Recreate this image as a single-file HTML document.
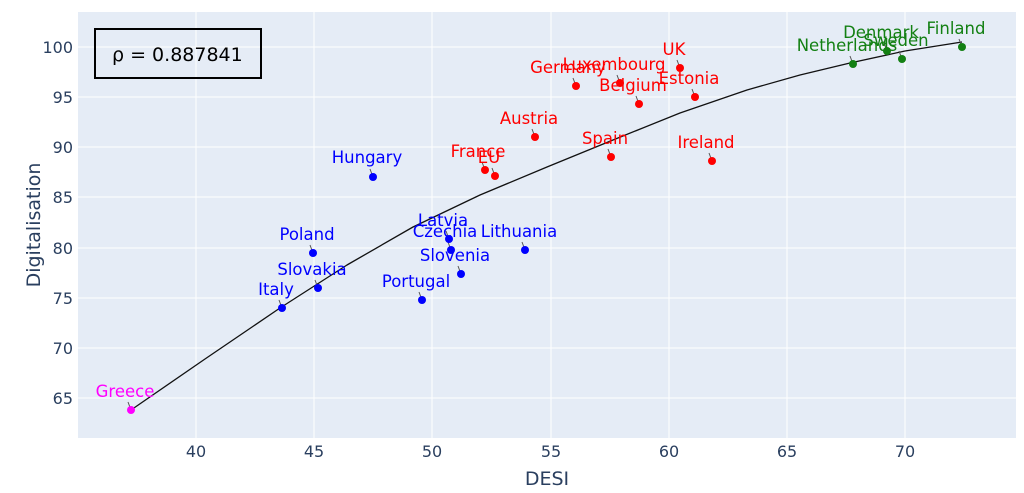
<!DOCTYPE html>
<html><head><meta charset="utf-8"><style>body{margin:0;background:#fff}svg{display:block;font-family:"DejaVu Sans","Liberation Sans",sans-serif}</style></head>
<body>
<svg width="1024" height="493" xmlns="http://www.w3.org/2000/svg">
<rect x="78" y="12" width="938" height="426" fill="#e5ecf6"/>
<g stroke="#fff" stroke-width="1">
<line x1="196" y1="12" x2="196" y2="438"/><line x1="314" y1="12" x2="314" y2="438"/><line x1="432" y1="12" x2="432" y2="438"/><line x1="551" y1="12" x2="551" y2="438"/><line x1="669" y1="12" x2="669" y2="438"/><line x1="787" y1="12" x2="787" y2="438"/><line x1="905" y1="12" x2="905" y2="438"/>
<line x1="78" y1="47" x2="1016" y2="47"/><line x1="78" y1="97" x2="1016" y2="97"/><line x1="78" y1="147" x2="1016" y2="147"/><line x1="78" y1="197" x2="1016" y2="197"/><line x1="78" y1="248" x2="1016" y2="248"/><line x1="78" y1="298" x2="1016" y2="298"/><line x1="78" y1="348" x2="1016" y2="348"/><line x1="78" y1="398" x2="1016" y2="398"/>
</g>
<g fill="#2a3f5f" font-size="16" text-anchor="end">
<text x="73" y="53">100</text><text x="73" y="103">95</text><text x="73" y="153">90</text><text x="73" y="203">85</text><text x="73" y="254">80</text><text x="73" y="304">75</text><text x="73" y="354">70</text><text x="73" y="404">65</text>
</g>
<g fill="#2a3f5f" font-size="16" text-anchor="middle">
<text x="196" y="457">40</text><text x="314" y="457">45</text><text x="432" y="457">50</text><text x="551" y="457">55</text><text x="669" y="457">60</text><text x="787" y="457">65</text><text x="905" y="457">70</text>
<text x="547" y="485" font-size="19">DESI</text>
<text transform="translate(40,225) rotate(-90)" font-size="19">Digitalisation</text>
</g>
<polyline points="131,410 205,359 280,308 347,265 413,227 480,195 547,167 613,140 680,113 747,90 800,75 850,63 905,51 962,42" fill="none" stroke="#111" stroke-width="1.3" stroke-linejoin="round"/>
<g stroke="#555" stroke-width="1">
<path d="M131,410l-3,-8M282,308l-3,-8M318,288l-3,-8M313,253l-3,-8M373,177l-3,-8M422,300l-3,-8M449,239l-3,-8M451,250l-3,-8M461,274l-3,-8M525,250l-3,-8M485,170l-3,-8M495,176l-3,-8M535,137l-3,-8M576,86l-3,-8M620,83l-3,-8M639,104l-3,-8M680,68l-3,-8M695,97l-3,-8M611,157l-3,-8M712,161l-3,-8M853,64l-3,-8M887,51l-3,-8M902,59l-3,-8M962,47l-3,-8"/>
</g>
<g font-size="16.5" text-anchor="middle">
<g fill="#ff00ff"><circle cx="131" cy="410" r="4"/><text x="125" y="397">Greece</text></g>
<g fill="#0000ff">
<circle cx="282" cy="308" r="4"/><text x="276" y="295">Italy</text>
<circle cx="318" cy="288" r="4"/><text x="312" y="275">Slovakia</text>
<circle cx="313" cy="253" r="4"/><text x="307" y="240">Poland</text>
<circle cx="373" cy="177" r="4"/><text x="367" y="163">Hungary</text>
<circle cx="422" cy="300" r="4"/><text x="416" y="287">Portugal</text>
<circle cx="449" cy="239" r="4"/><text x="443" y="226">Latvia</text>
<circle cx="451" cy="250" r="4"/><text x="445" y="237">Czechia</text>
<circle cx="461" cy="274" r="4"/><text x="455" y="261">Slovenia</text>
<circle cx="525" cy="250" r="4"/><text x="519" y="237">Lithuania</text>
</g>
<g fill="#ff0000">
<circle cx="485" cy="170" r="4"/><text x="478" y="157">France</text>
<circle cx="495" cy="176" r="4"/><text x="489" y="163">EU</text>
<circle cx="535" cy="137" r="4"/><text x="529" y="124">Austria</text>
<circle cx="576" cy="86" r="4"/><text x="568" y="73">Germany</text>
<circle cx="620" cy="83" r="4"/><text x="614" y="70">Luxembourg</text>
<circle cx="639" cy="104" r="4"/><text x="633" y="91">Belgium</text>
<circle cx="680" cy="68" r="4"/><text x="674" y="55">UK</text>
<circle cx="695" cy="97" r="4"/><text x="689" y="84">Estonia</text>
<circle cx="611" cy="157" r="4"/><text x="605" y="144">Spain</text>
<circle cx="712" cy="161" r="4"/><text x="706" y="148">Ireland</text>
</g>
<g fill="#138013">
<circle cx="853" cy="64" r="4"/><text x="847" y="51">Netherlands</text>
<circle cx="887" cy="51" r="4"/><text x="881" y="38">Denmark</text>
<circle cx="902" cy="59" r="4"/><text x="896" y="46">Sweden</text>
<circle cx="962" cy="47" r="4"/><text x="956" y="34">Finland</text>
</g>
</g>
<rect x="95" y="29" width="166" height="49" fill="none" stroke="#000" stroke-width="2"/>
<text x="112" y="61" font-size="19" fill="#000">ρ = 0.887841</text>
</svg>
</body></html>
